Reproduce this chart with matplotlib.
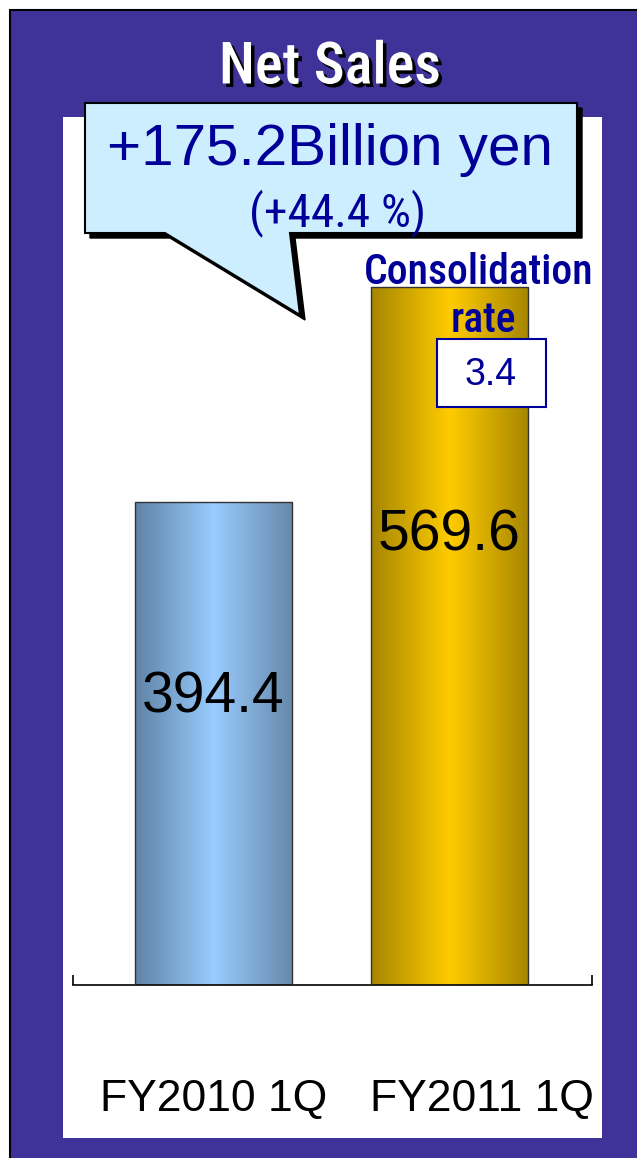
import numpy as np
import matplotlib
matplotlib.use("Agg")
import matplotlib.pyplot as plt
from matplotlib.patches import Rectangle, Polygon
from matplotlib.colors import LinearSegmentedColormap
from matplotlib.transforms import ScaledTranslation
import matplotlib.patheffects as pe
from matplotlib import font_manager

# ---- data ----
categories = ["FY2010 1Q", "FY2011 1Q"]
net_sales = [394.4, 569.6]
value_labels = ["394.4", "569.6"]
title_text = "Net Sales"
diff_text = "+175.2Billion yen"
pct_text = "(+44.4 %)"
consol_label = ["Consolidation", "rate"]
consol_value = "3.4"

# ---- layout / style ----
W, H = 637, 1158
DPI = 100
PURPLE = "#3f3399"
NAVY = "#000099"
bar_grad = [["#5f83a6", "#99ccff", "#6688aa"], ["#a68600", "#ffcc00", "#a68600"]]
label_frac = [0.596, 0.645]
cat_offset_px = [0, 33]

names = {f.name for f in font_manager.fontManager.ttflist}
NARROW = "Roboto Condensed" if "Roboto Condensed" in names else "DejaVu Sans"
SANS = "Liberation Sans"

fig = plt.figure(figsize=(W / DPI, H / DPI), dpi=DPI)
fig.patch.set_facecolor("white")

bg = fig.add_axes([0, 0, 1, 1], zorder=0)
bg.set_xlim(0, W); bg.set_ylim(H, 0); bg.axis("off")
bg.add_patch(Rectangle((10, 10), W, H, facecolor=PURPLE, edgecolor="black", lw=1.5))
bg.add_patch(Rectangle((63, 117), 539, 1021, facecolor="white", edgecolor="none"))

# main axes
px_per_unit = 1.2246
ax = fig.add_axes([73 / W, 1 - 985 / H, (592 - 73) / W, (985 - 117) / H], zorder=1)
ax.patch.set_visible(False)
x = np.arange(len(categories))
width = 0.667
bars = ax.bar(x, net_sales, width=width, facecolor="none", edgecolor="#333333", lw=1.0, zorder=3)
for i, b in enumerate(bars):
    cmap = LinearSegmentedColormap.from_list("g%d" % i, bar_grad[i])
    grad = np.linspace(0, 1, 256).reshape(1, -1)
    im = ax.imshow(grad, cmap=cmap, aspect="auto", interpolation="bicubic",
                   extent=(b.get_x(), b.get_x() + b.get_width(), 0, b.get_height()), zorder=2)
    im.set_clip_path(b)
    ax.text(x[i], net_sales[i] * label_frac[i], value_labels[i], ha="center", va="center",
            fontsize=41, family=SANS, color="black", zorder=4)

xl = (-0.597, 1.607)
ax.set_xlim(*xl)
ax.set_ylim(0, (985 - 117) / px_per_unit)
for s in ["top", "left", "right"]:
    ax.spines[s].set_visible(False)
ax.spines["bottom"].set_linewidth(1.2)
ax.set_yticks([])
ax.set_xticks(x)
ax.set_xticklabels(categories, fontsize=32, family=SANS)
ax.tick_params(axis="x", which="major", length=0, pad=68)
for lab, off in zip(ax.get_xticklabels(), cat_offset_px):
    lab.set_transform(lab.get_transform() + ScaledTranslation(off / DPI, 0, fig.dpi_scale_trans))
ax.set_xticks(list(xl), minor=True)
ax.tick_params(axis="x", which="minor", direction="in", length=7, width=1.2)

# foreground overlay
fg = fig.add_axes([0, 0, 1, 1], zorder=2)
fg.set_xlim(0, W); fg.set_ylim(H, 0); fg.axis("off")
fg.patch.set_visible(False)

fg.text(330, 68, title_text, ha="center", va="center", fontsize=42, family=NARROW,
        fontweight="medium", color="white",
        path_effects=[pe.SimplePatchShadow(offset=(2.5, -2.5), shadow_rgbFace="black", alpha=1),
                      pe.Normal()])

callout = [(85, 103), (577, 103), (577, 233), (290, 233), (300, 315), (165, 233), (85, 233)]
shadow = [(px + 5, py + 5) for px, py in callout]
fg.add_patch(Polygon(shadow, closed=True, facecolor="black", edgecolor="black", lw=1))
fg.add_patch(Polygon(callout, closed=True, facecolor="#cceeff", edgecolor="black", lw=1.5))
fg.text(330, 150, diff_text, ha="center", va="center", fontsize=42, family=SANS, color=NAVY)
fg.text(338, 213, pct_text, ha="center", va="center", fontsize=34, family=NARROW, color=NAVY)

fg.text(479, 273, consol_label[0], ha="center", va="center", fontsize=30, family=NARROW,
        fontweight="medium", color=NAVY)
fg.text(483, 320, consol_label[1], ha="center", va="center", fontsize=30, family=NARROW,
        fontweight="medium", color=NAVY)
fg.add_patch(Rectangle((437, 339), 109, 68, facecolor="white", edgecolor=NAVY, lw=1.5))
fg.text(491, 375, consol_value, ha="center", va="center", fontsize=27, family=SANS, color=NAVY)

fig.savefig("out.png", dpi=DPI)
